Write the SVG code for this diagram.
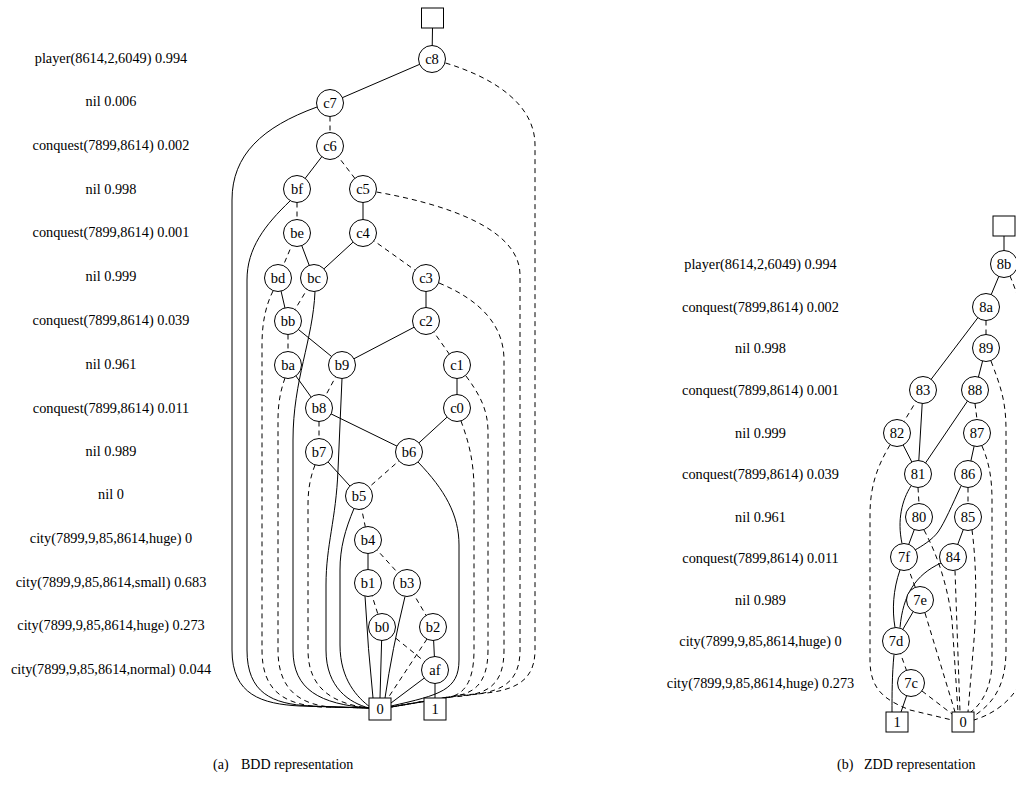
<svg xmlns="http://www.w3.org/2000/svg" width="1016" height="806" viewBox="0 0 1016 806">
<style>
.bg{fill:#fff}
.n circle,.n rect{fill:#fff;stroke:#000;stroke-width:1}
.n text{font-family:'Liberation Serif','Times New Roman',serif;font-size:14.5px;text-anchor:middle;fill:#000}
.e path,.e line{fill:none;stroke:#000;stroke-width:1}
.e .d{stroke-dasharray:5,4}
.lbl{font-family:'Liberation Serif','Times New Roman',serif;font-size:14.3px;text-anchor:middle;fill:#000}
.cap{font-family:'Liberation Serif','Times New Roman',serif;font-size:14px;fill:#000}
</style>
<rect class="bg" x="0" y="0" width="1016" height="806"/>

<!-- BDD variable labels -->
<g id="bdd-labels">
<text class="lbl" x="111" y="63">player(8614,2,6049) 0.994</text>
<text class="lbl" x="111" y="106">nil 0.006</text>
<text class="lbl" x="111" y="150">conquest(7899,8614) 0.002</text>
<text class="lbl" x="111" y="194">nil 0.998</text>
<text class="lbl" x="111" y="237">conquest(7899,8614) 0.001</text>
<text class="lbl" x="111" y="281">nil 0.999</text>
<text class="lbl" x="111" y="325">conquest(7899,8614) 0.039</text>
<text class="lbl" x="111" y="369">nil 0.961</text>
<text class="lbl" x="111" y="413">conquest(7899,8614) 0.011</text>
<text class="lbl" x="111" y="456">nil 0.989</text>
<text class="lbl" x="111" y="499">nil 0</text>
<text class="lbl" x="111" y="543">city(7899,9,85,8614,huge) 0</text>
<text class="lbl" x="111" y="587">city(7899,9,85,8614,small) 0.683</text>
<text class="lbl" x="111" y="630">city(7899,9,85,8614,huge) 0.273</text>
<text class="lbl" x="111" y="674">city(7899,9,85,8614,normal) 0.044</text>
</g>

<!-- ZDD variable labels -->
<g id="zdd-labels">
<text class="lbl" x="760.5" y="269">player(8614,2,6049) 0.994</text>
<text class="lbl" x="760.5" y="312">conquest(7899,8614) 0.002</text>
<text class="lbl" x="760.5" y="353">nil 0.998</text>
<text class="lbl" x="760.5" y="395">conquest(7899,8614) 0.001</text>
<text class="lbl" x="760.5" y="438">nil 0.999</text>
<text class="lbl" x="760.5" y="479">conquest(7899,8614) 0.039</text>
<text class="lbl" x="760.5" y="522">nil 0.961</text>
<text class="lbl" x="760.5" y="563">conquest(7899,8614) 0.011</text>
<text class="lbl" x="760.5" y="605">nil 0.989</text>
<text class="lbl" x="760.5" y="646">city(7899,9,85,8614,huge) 0</text>
<text class="lbl" x="760.5" y="688">city(7899,9,85,8614,huge) 0.273</text>
</g>

<!-- connectors -->
<g id="connectors" class="e">
<!-- BDD solid straight -->
<line x1="432.5" y1="28" x2="432" y2="59"/>
<line x1="432" y1="59" x2="330" y2="103"/>
<line x1="330" y1="146" x2="297" y2="189"/>
<line x1="363" y1="189" x2="363" y2="233"/>
<line x1="297" y1="233" x2="314" y2="278"/>
<line x1="363" y1="233" x2="314" y2="278"/>
<line x1="278" y1="278" x2="288" y2="321"/>
<line x1="426" y1="278" x2="426" y2="321"/>
<line x1="288" y1="321" x2="342" y2="365"/>
<line x1="426" y1="321" x2="342" y2="365"/>
<line x1="288" y1="365" x2="319" y2="408"/>
<line x1="319" y1="452" x2="359" y2="496"/>
<line x1="319" y1="408" x2="409" y2="452"/>
<line x1="457" y1="365" x2="457" y2="408"/>
<line x1="457" y1="408" x2="409" y2="452"/>
<line x1="368" y1="540" x2="368" y2="583"/>
<line x1="433" y1="627" x2="435" y2="670"/>
<path d="M365,596 Q368,650 373,698"/>
<line x1="382" y1="627" x2="380" y2="698"/>
<path d="M405,596.5 Q392,650 385,698"/>
<line x1="435" y1="670" x2="391" y2="703"/>
<line x1="435" y1="670" x2="435" y2="698"/>
<!-- BDD dashed straight -->
<line class="d" x1="330" y1="116.5" x2="330" y2="132.5"/>
<line class="d" x1="330" y1="146" x2="363" y2="189"/>
<line class="d" x1="297" y1="202.5" x2="297" y2="219.5"/>
<line class="d" x1="297" y1="233" x2="278" y2="278"/>
<line class="d" x1="363" y1="233" x2="426" y2="278"/>
<line class="d" x1="314" y1="278" x2="288" y2="321"/>
<line class="d" x1="288" y1="334.5" x2="288" y2="351.5"/>
<line class="d" x1="426" y1="321" x2="457" y2="365"/>
<line class="d" x1="342" y1="365" x2="319" y2="408"/>
<line class="d" x1="319" y1="421.5" x2="319" y2="438.5"/>
<line class="d" x1="409" y1="452" x2="359" y2="496"/>
<line class="d" x1="359" y1="496" x2="368" y2="540"/>
<line class="d" x1="368" y1="540" x2="407" y2="583"/>
<line class="d" x1="368" y1="583" x2="382" y2="627"/>
<line class="d" x1="407" y1="583" x2="433" y2="627"/>
<line class="d" x1="382" y1="627" x2="435" y2="670"/>
<line class="d" x1="427" y1="639" x2="388" y2="698"/>
<!-- BDD long edges, left side -->
<path d="M317,107 C262,127 232,155 232,200 L232,650 C232,695 262,704 300,706 L369,708"/>
<path d="M290,201 C265,225 247,248 247,280 L247,650 C247,693 272,704 310,706 L369,708"/>
<path class="d" d="M273,291 C266,305 262,322 262,345 L262,650 C262,692 285,704 320,707 L369,708"/>
<path class="d" d="M285,378 C280,392 278,405 278,420 L278,650 C278,690 300,704 330,707 L369,708"/>
<path d="M315,291.5 C313,340 293,380 293,440 L293,650 C293,690 320,704 369,708"/>
<path class="d" d="M315,465 C310,478 308,490 308,505 L308,650 C308,690 335,704 369,708"/>
<path d="M342,378.5 L338,470 C336,520 326,545 326,585 L326,650 C326,688 350,703 369,708"/>
<path d="M354,508.5 C345,530 340,548 340,570 L340,645 C340,680 358,698 370,707"/>
<!-- BDD long edges, right side -->
<path class="d" d="M445.5,63 C495,78 535,105 535,145 L535,650 C535,688 505,693 460,695 L391,707"/>
<path class="d" d="M376.5,192 C450,205 520,230 520,275 L520,650 C520,688 495,694 455,696 L391,707"/>
<path class="d" d="M439,283 C480,300 504,325 504,360 L504,650 C504,688 485,695 452,697 L391,707"/>
<path class="d" d="M466,376 C480,395 488,410 488,432 L488,650 C488,688 470,695 448,697 L391,707"/>
<path class="d" d="M461,421 C468,440 474,460 474,490 L474,650 C474,688 460,696 445,698 L391,707"/>
<path d="M418,462 C445,490 459,515 459,545 L459,660 C459,690 440,695 391,706"/>

<!-- ZDD solid -->
<line x1="1004" y1="236" x2="1004" y2="264"/>
<line x1="1004" y1="264" x2="986" y2="307"/>
<line x1="986" y1="307" x2="923" y2="390"/>
<line x1="986" y1="348" x2="975" y2="390"/>
<line x1="923" y1="390" x2="918" y2="474"/>
<line x1="975" y1="390" x2="918" y2="474"/>
<line x1="897" y1="433" x2="918" y2="474"/>
<line x1="977" y1="433" x2="968" y2="474"/>
<line x1="919" y1="517" x2="904" y2="557"/>
<line x1="968" y1="517" x2="953" y2="557"/>
<line x1="920" y1="600" x2="896" y2="641"/>
<line x1="911" y1="683" x2="901" y2="712"/>
<path d="M911,486 C902,500 897,520 902,543.5"/>
<path d="M961,486 C952,505 945,522 938,532 C932,540 922,546 915,550"/>
<path d="M941,563 C915,575 903,595 900,627.5"/>
<path d="M900,570 C893,590 892,610 895,627.5"/>
<path d="M894,654.5 C892,675 892,695 892,712"/>
<!-- ZDD dashed -->
<line class="d" x1="986" y1="320.5" x2="986" y2="334.5"/>
<line class="d" x1="923" y1="390" x2="897" y2="433"/>
<line class="d" x1="975" y1="403.5" x2="977" y2="419.5"/>
<line class="d" x1="918" y1="487.5" x2="919" y2="503.5"/>
<line class="d" x1="968" y1="487.5" x2="968" y2="503.5"/>
<line class="d" x1="904" y1="557" x2="920" y2="600"/>
<line class="d" x1="896" y1="641" x2="911" y2="683"/>
<line class="d" x1="922" y1="691" x2="952" y2="714"/>
<line class="d" x1="955" y1="570.5" x2="960" y2="712"/>
<line class="d" x1="925" y1="613" x2="955" y2="712"/>
<path class="d" d="M1010,276 C1020,300 1030,330 1030,370 L1030,640 C1030,690 1000,712 974,720"/>
<path class="d" d="M991,361 C1000,385 1006,400 1006,430 L1006,650 C1006,690 990,705 974,716"/>
<path class="d" d="M982,446 C988,460 992,475 992,500 L992,660 C992,690 980,705 971,712"/>
<path class="d" d="M924,530 C940,560 948,590 952,620 L958,712"/>
<path class="d" d="M972,530 C976,560 977,600 974,640 L968,712"/>
<path class="d" d="M890,445 C878,465 870,485 870,515 L870,660 C870,690 885,700 910,710 L952,720"/>
</g>

<!-- BDD nodes -->
<g id="bdd-root" class="n"><rect x="421.5" y="8" width="22" height="20"/></g>
<g id="c8" class="n"><circle cx="432" cy="59" r="13.5"/><text x="432" y="64">c8</text></g>
<g id="c7" class="n"><circle cx="330" cy="103" r="13.5"/><text x="330" y="108">c7</text></g>
<g id="c6" class="n"><circle cx="330" cy="146" r="13.5"/><text x="330" y="151">c6</text></g>
<g id="bf" class="n"><circle cx="297" cy="189" r="13.5"/><text x="297" y="194">bf</text></g>
<g id="c5" class="n"><circle cx="363" cy="189" r="13.5"/><text x="363" y="194">c5</text></g>
<g id="be" class="n"><circle cx="297" cy="233" r="13.5"/><text x="297" y="238">be</text></g>
<g id="c4" class="n"><circle cx="363" cy="233" r="13.5"/><text x="363" y="238">c4</text></g>
<g id="bd" class="n"><circle cx="278" cy="278" r="13.5"/><text x="278" y="283">bd</text></g>
<g id="bc" class="n"><circle cx="314" cy="278" r="13.5"/><text x="314" y="283">bc</text></g>
<g id="c3" class="n"><circle cx="426" cy="278" r="13.5"/><text x="426" y="283">c3</text></g>
<g id="bb" class="n"><circle cx="288" cy="321" r="13.5"/><text x="288" y="326">bb</text></g>
<g id="c2" class="n"><circle cx="426" cy="321" r="13.5"/><text x="426" y="326">c2</text></g>
<g id="ba" class="n"><circle cx="288" cy="365" r="13.5"/><text x="288" y="370">ba</text></g>
<g id="b9" class="n"><circle cx="342" cy="365" r="13.5"/><text x="342" y="370">b9</text></g>
<g id="c1" class="n"><circle cx="457" cy="365" r="13.5"/><text x="457" y="370">c1</text></g>
<g id="b8" class="n"><circle cx="319" cy="408" r="13.5"/><text x="319" y="413">b8</text></g>
<g id="c0" class="n"><circle cx="457" cy="408" r="13.5"/><text x="457" y="413">c0</text></g>
<g id="b7" class="n"><circle cx="319" cy="452" r="13.5"/><text x="319" y="457">b7</text></g>
<g id="b6" class="n"><circle cx="409" cy="452" r="13.5"/><text x="409" y="457">b6</text></g>
<g id="b5" class="n"><circle cx="359" cy="496" r="13.5"/><text x="359" y="501">b5</text></g>
<g id="b4" class="n"><circle cx="368" cy="540" r="13.5"/><text x="368" y="545">b4</text></g>
<g id="b1" class="n"><circle cx="368" cy="583" r="13.5"/><text x="368" y="588">b1</text></g>
<g id="b3" class="n"><circle cx="407" cy="583" r="13.5"/><text x="407" y="588">b3</text></g>
<g id="b0" class="n"><circle cx="382" cy="627" r="13.5"/><text x="382" y="632">b0</text></g>
<g id="b2" class="n"><circle cx="433" cy="627" r="13.5"/><text x="433" y="632">b2</text></g>
<g id="af" class="n"><circle cx="435" cy="670" r="13.5"/><text x="435" y="675">af</text></g>
<g id="bdd-0" class="n"><rect x="369" y="698" width="22" height="22"/><text x="380" y="714">0</text></g>
<g id="bdd-1" class="n"><rect x="424" y="698" width="22" height="22"/><text x="435" y="714">1</text></g>

<!-- ZDD nodes -->
<g id="zdd-root" class="n"><rect x="993" y="216" width="22" height="20"/></g>
<g id="n8b" class="n"><circle cx="1004" cy="264" r="13.5"/><text x="1004" y="269">8b</text></g>
<g id="n8a" class="n"><circle cx="986" cy="307" r="13.5"/><text x="986" y="312">8a</text></g>
<g id="n89" class="n"><circle cx="986" cy="348" r="13.5"/><text x="986" y="353">89</text></g>
<g id="n83" class="n"><circle cx="923" cy="390" r="13.5"/><text x="923" y="395">83</text></g>
<g id="n88" class="n"><circle cx="975" cy="390" r="13.5"/><text x="975" y="395">88</text></g>
<g id="n82" class="n"><circle cx="897" cy="433" r="13.5"/><text x="897" y="438">82</text></g>
<g id="n87" class="n"><circle cx="977" cy="433" r="13.5"/><text x="977" y="438">87</text></g>
<g id="n81" class="n"><circle cx="918" cy="474" r="13.5"/><text x="918" y="479">81</text></g>
<g id="n86" class="n"><circle cx="968" cy="474" r="13.5"/><text x="968" y="479">86</text></g>
<g id="n80" class="n"><circle cx="919" cy="517" r="13.5"/><text x="919" y="522">80</text></g>
<g id="n85" class="n"><circle cx="968" cy="517" r="13.5"/><text x="968" y="522">85</text></g>
<g id="n7f" class="n"><circle cx="904" cy="557" r="13.5"/><text x="904" y="562">7f</text></g>
<g id="n84" class="n"><circle cx="953" cy="557" r="13.5"/><text x="953" y="562">84</text></g>
<g id="n7e" class="n"><circle cx="920" cy="600" r="13.5"/><text x="920" y="605">7e</text></g>
<g id="n7d" class="n"><circle cx="896" cy="641" r="13.5"/><text x="896" y="646">7d</text></g>
<g id="n7c" class="n"><circle cx="911" cy="683" r="13.5"/><text x="911" y="688">7c</text></g>
<g id="zdd-1" class="n"><rect x="886" y="712" width="22" height="20"/><text x="897" y="727">1</text></g>
<g id="zdd-0" class="n"><rect x="952" y="712" width="22" height="20"/><text x="963" y="727">0</text></g>

<!-- captions -->
<text class="cap" x="213" y="769">(a)<tspan x="241">BDD representation</tspan></text>
<text class="cap" x="837" y="769">(b)<tspan x="864">ZDD representation</tspan></text>
</svg>
